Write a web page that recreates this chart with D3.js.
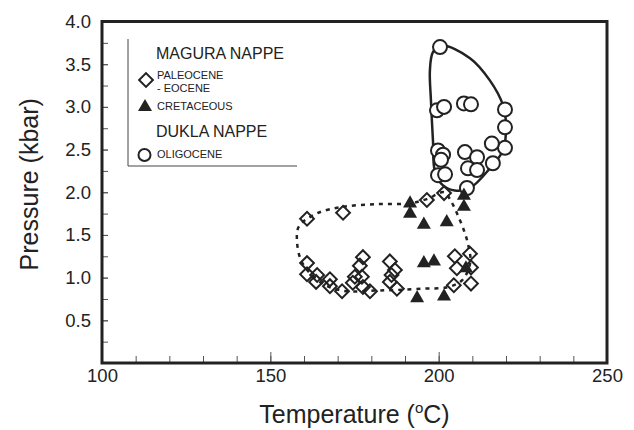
<!DOCTYPE html>
<html>
<head>
<meta charset="utf-8">
<script src="https://cdn.jsdelivr.net/npm/d3@7"></script>
<style>
    body { margin: 0; background: #fff; }
    svg { display: block; font-family: "Liberation Sans", Arial, sans-serif; }
</style>
</head>
<body>
<div id="chart"></div>
<script>
// Magura nappe, Paleocene - Eocene samples [T degC, P kbar]
const paleoceneEocene = [
    [160.9, 1.69], [171.6, 1.76], [196.5, 1.91], [201.6, 1.99],
    [160.9, 1.17], [160.9, 1.04], [163.9, 1.03], [163.6, 0.95], [167.7, 0.98], [167.7, 0.90], [171.3, 0.84],
    [177.5, 1.24], [176.6, 1.14], [177.2, 1.01], [175.1, 1.01], [174.5, 0.94], [177.5, 0.89], [179.6, 0.84],
    [185.5, 1.19], [187.0, 1.09], [186.0, 1.03], [185.5, 0.95], [187.6, 0.87],
    [204.8, 1.25], [209.3, 1.28], [205.4, 1.11], [209.6, 1.12], [204.5, 0.91], [209.6, 0.93]
];

// Magura nappe, Cretaceous samples
const cretaceous = [
    [191.5, 1.87], [191.5, 1.75], [195.6, 1.62], [202.4, 1.65], [195.6, 1.17], [198.6, 1.19],
    [193.6, 0.76], [201.6, 0.78], [207.5, 1.96], [207.5, 1.83], [208.1, 1.11]
];

// Dukla nappe, Oligocene samples
const oligocene = [
    [200.4, 3.70], [199.5, 2.96], [201.6, 3.00], [207.5, 3.04], [209.6, 3.03],
    [219.7, 2.97], [219.7, 2.76], [219.7, 2.52], [215.8, 2.57],
    [199.8, 2.49], [201.3, 2.44], [200.7, 2.38], [199.8, 2.20], [201.9, 2.21],
    [207.8, 2.47], [211.4, 2.41], [208.7, 2.28], [211.4, 2.26], [216.1, 2.34], [208.4, 2.05]
];

// field outlines
const maguraField = [
    [163.7, 1.75], [171.6, 1.83], [181.6, 1.86], [191.5, 1.87], [196.5, 1.92], [201.6, 2.00],
    [203.6, 1.90], [205.7, 1.73], [207.8, 1.52], [208.9, 1.36], [209.4, 1.18], [207.0, 0.97],
    [202.8, 0.89], [195.3, 0.87], [182.6, 0.85], [171.0, 0.85], [164.7, 0.95], [159.4, 1.18],
    [157.9, 1.44], [158.5, 1.60]
];
const duklaField = [
    [200.7, 3.72], [209.3, 3.57], [215.2, 3.31], [219.1, 3.02], [220.0, 2.79], [219.1, 2.49],
    [215.2, 2.28], [209.3, 2.05], [204.8, 2.02], [201.3, 2.08], [198.9, 2.24], [198.3, 2.61],
    [197.7, 3.08], [197.4, 3.43], [198.3, 3.64]
];

const xTicksMinor = d3.range(100, 251, 10);
const xTicksMajor = [100, 150, 200, 250];
const yTicksMinor = d3.range(0.25, 4, 0.25);
const yTickLabels = [0.5, 1.0, 1.5, 2.0, 2.5, 3.0, 3.5, 4.0];

const width = 634, height = 430;
const ink = "#222";

const svg = d3.select("#chart").append("svg")
    .attr("width", width)
    .attr("height", height);

const x = d3.scaleLinear().domain([100, 250]).range([102, 607]);
const y = d3.scaleLinear().domain([0, 4]).range([363, 21.5]);

// axes: ticks point inward
const xMinor = svg.append("g")
    .attr("transform", `translate(0,${y(0)})`)
    .call(d3.axisBottom(x).tickValues(xTicksMinor).tickSize(-7).tickFormat(""));
const xMajor = svg.append("g")
    .attr("transform", `translate(0,${y(0)})`)
    .call(d3.axisBottom(x).tickValues(xTicksMajor).tickSize(-11).tickPadding(6).tickFormat(d3.format("d")));
const yMinor = svg.append("g")
    .attr("transform", `translate(${x(100)},0)`)
    .call(d3.axisLeft(y).tickValues(yTicksMinor).tickSize(-6).tickFormat(""));
const yMajor = svg.append("g")
    .attr("transform", `translate(${x(100)},0)`)
    .call(d3.axisLeft(y).tickValues(yTickLabels).tickSize(-6).tickPadding(11).tickFormat(d3.format(".1f")));

[xMinor, xMajor, yMinor, yMajor].forEach(g => {
    g.select(".domain").remove();
    g.selectAll(".tick line").attr("stroke", "#555").attr("stroke-width", 1);
    g.selectAll(".tick text")
        .attr("fill", ink)
        .style("font-size", "18.5px")
        .style("font-family", "\"Liberation Sans\", Arial, sans-serif");
});

// frame
svg.append("rect")
    .attr("x", x(100))
    .attr("y", y(4))
    .attr("width", x(250) - x(100))
    .attr("height", y(0) - y(4))
    .attr("fill", "none")
    .attr("stroke", ink)
    .attr("stroke-width", 3);

// axis titles
svg.append("text")
    .attr("x", (x(100) + x(250)) / 2)
    .attr("y", 423)
    .attr("text-anchor", "middle")
    .attr("fill", ink)
    .style("font-size", "25px")
    .call(t => {
        t.append("tspan").text("Temperature (");
        t.append("tspan").attr("dy", -10).style("font-size", "15px").text("o");
        t.append("tspan").attr("dy", 10).text("C)");
    });

svg.append("text")
    .attr("transform", `translate(38,${(y(0) + y(4)) / 2 - 8}) rotate(-90)`)
    .attr("text-anchor", "middle")
    .attr("fill", ink)
    .style("font-size", "25px")
    .text("Pressure (kbar)");

const line = d3.line()
    .x(d => x(d[0]))
    .y(d => y(d[1]))
    .curve(d3.curveCatmullRomClosed.alpha(0.5));

// fields
svg.append("path")
    .attr("d", line(maguraField))
    .attr("fill", "none")
    .attr("stroke", ink)
    .attr("stroke-width", 2.5)
    .attr("stroke-dasharray", "4,5");

svg.append("path")
    .attr("d", line(duklaField))
    .attr("fill", "none")
    .attr("stroke", ink)
    .attr("stroke-width", 2.5);

const diamond = d3.symbol().type(d3.symbolSquare).size(95)();
const triangle = d3.symbol().type(d3.symbolTriangle).size(85)();

svg.append("g")
    .selectAll("circle")
    .data(oligocene)
    .join("circle")
    .attr("cx", d => x(d[0]))
    .attr("cy", d => y(d[1]))
    .attr("r", 7)
    .attr("fill", "#fff")
    .attr("stroke", ink)
    .attr("stroke-width", 2);

svg.append("g")
    .selectAll("path")
    .data(paleoceneEocene)
    .join("path")
    .attr("d", diamond)
    .attr("transform", d => `translate(${x(d[0])},${y(d[1])}) rotate(45)`)
    .attr("fill", "none")
    .attr("stroke", ink)
    .attr("stroke-width", 2);

svg.append("g")
    .selectAll("path")
    .data(cretaceous)
    .join("path")
    .attr("d", triangle)
    .attr("transform", d => `translate(${x(d[0])},${y(d[1])})`)
    .attr("fill", ink);

// legend
const legend = svg.append("g");
legend.append("path")
    .attr("d", "M128,39V166H297")
    .attr("fill", "none")
    .attr("stroke", "#444")
    .attr("stroke-width", 1);

const legendText = [
    { text: "MAGURA NAPPE", y: 59, size: 16 },
    { text: "PALEOCENE", y: 79, size: 11 },
    { text: "- EOCENE", y: 92, size: 11 },
    { text: "CRETACEOUS", y: 110, size: 11 },
    { text: "DUKLA NAPPE", y: 137, size: 16 },
    { text: "OLIGOCENE", y: 158, size: 11 }
];
legend.selectAll("text")
    .data(legendText)
    .join("text")
    .attr("x", d => d.size > 12 ? 156 : 157)
    .attr("y", d => d.y)
    .attr("fill", ink)
    .style("font-size", d => d.size + "px")
    .text(d => d.text);

legend.append("path")
    .attr("d", diamond)
    .attr("transform", "translate(146,80) rotate(45)")
    .attr("fill", "none")
    .attr("stroke", ink)
    .attr("stroke-width", 2);
legend.append("path")
    .attr("d", triangle)
    .attr("transform", "translate(145,107)")
    .attr("fill", ink);
legend.append("circle")
    .attr("cx", 144.5)
    .attr("cy", 155)
    .attr("r", 6)
    .attr("fill", "#fff")
    .attr("stroke", ink)
    .attr("stroke-width", 2);
</script>
</body>
</html>
